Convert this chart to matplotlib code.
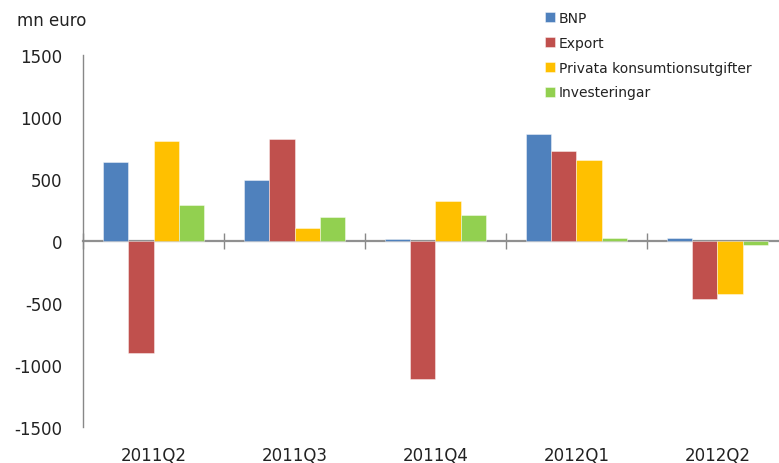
import matplotlib
matplotlib.use("Agg")
import matplotlib.pyplot as plt
import numpy as np

categories = ["2011Q2", "2011Q3", "2011Q4", "2012Q1", "2012Q2"]
series_names = ["BNP", "Export", "Privata konsumtionsutgifter", "Investeringar"]
bnp = [635, 495, 15, 865, 25]
export = [-900, 820, -1110, 725, -465]
privat = [805, 105, 325, 650, -425]
invest = [290, 195, 210, 25, -35]
colors = ["#4F81BD", "#C0504D", "#FFC000", "#92D050"]
yticks = [-1500, -1000, -500, 0, 500, 1000, 1500]

W, H = 779, 464
fig = plt.figure(figsize=(W / 100, H / 100), dpi=100)
ax = fig.add_axes([83 / W, (H - 428) / H, 705 / W, 372 / H])

x = np.arange(len(categories))
bw = 0.18
all_series = [bnp, export, privat, invest]
for i, (vals, name, c) in enumerate(zip(all_series, series_names, colors)):
    ax.bar(x + (i - 1.5) * bw, vals, width=bw, color=c, label=name,
           edgecolor=(1, 1, 1, 0.5), linewidth=0.6, zorder=4)

ax.set_xlim(-0.5, len(categories) - 0.5)
ax.set_ylim(-1500, 1500)
ax.set_yticks(yticks)
ax.set_yticklabels([str(v) for v in yticks])
ax.tick_params(axis="y", length=0, pad=15, labelsize=12, labelcolor="#222222")

ax.set_xticks(x)
ax.set_xticklabels(categories)
ax.tick_params(axis="x", length=0, pad=14, labelsize=12, labelcolor="#222222")

for s in ["top", "right", "bottom"]:
    ax.spines[s].set_visible(False)
ax.spines["left"].set_color("#888888")
ax.spines["left"].set_linewidth(1.0)

sec = ax.secondary_xaxis(0.5)
sec.set_xticks(np.arange(len(categories) + 1) - 0.5)
sec.set_xticklabels([])
sec.tick_params(axis="x", direction="inout", length=11, width=1.0, color="#888888")
for sp in sec.spines.values():
    sp.set_color("#909090")
    sp.set_linewidth(1.6)
sec.set_zorder(1)

fig.text(17 / W, 1 - 21.5 / H, "mn euro", fontsize=12, color="#222222",
         ha="left", va="center")

handles, labels = ax.get_legend_handles_labels()
leg = fig.legend(handles, labels, loc="upper left",
                 bbox_to_anchor=(545 / W, 1 - 12 / H), frameon=False,
                 fontsize=10, handlelength=0.7, handleheight=0.7,
                 handletextpad=0.3, labelspacing=0.78, borderpad=0,
                 borderaxespad=0)
for t in leg.get_texts():
    t.set_color("#222222")

fig.savefig("out.png", dpi=100)
